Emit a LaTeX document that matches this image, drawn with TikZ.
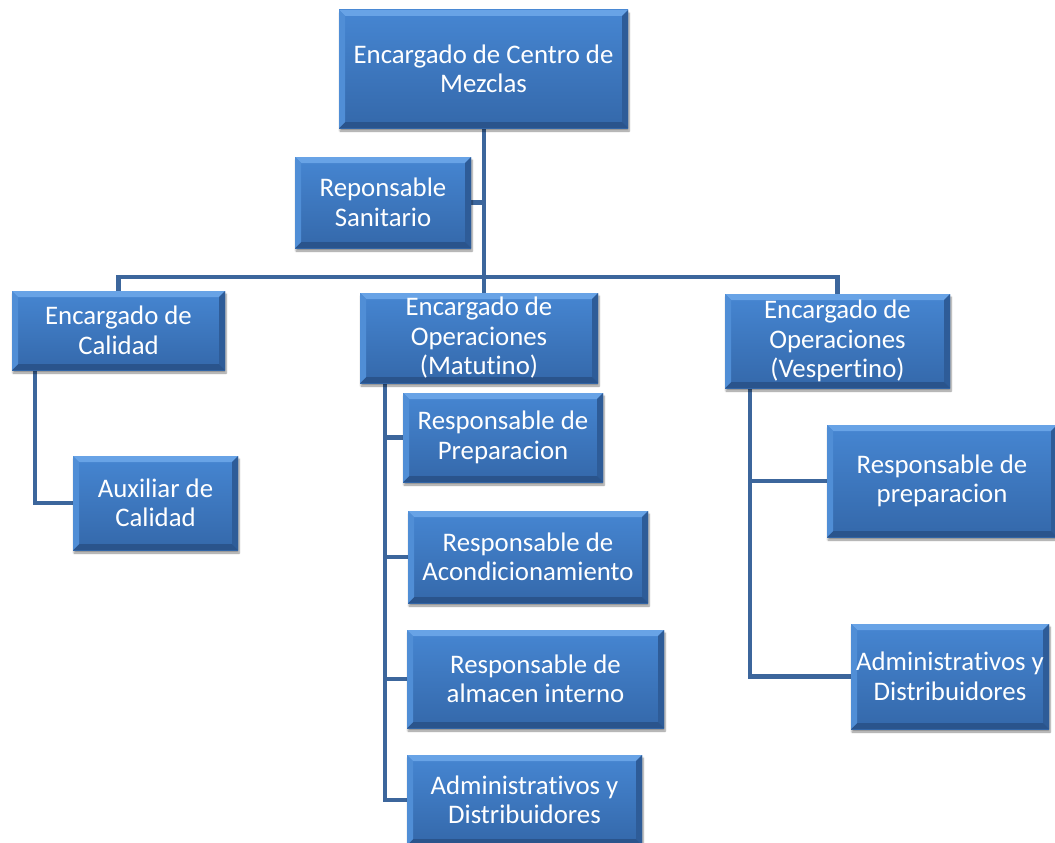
\documentclass[tikz,border=0pt]{standalone}
\usepackage{fontspec}
\setmainfont{Carlito}[Ligatures=NoCommon]
\usetikzlibrary{shadows.blur,backgrounds}

\definecolor{faceTop}{RGB}{70,134,210}
\definecolor{faceBot}{RGB}{52,104,170}
\definecolor{bevTop}{RGB}{104,163,230}
\definecolor{bevLeft}{RGB}{80,142,214}
\definecolor{bevRight}{RGB}{46,92,152}
\definecolor{bevBot}{RGB}{42,84,140}
\definecolor{linkBlue}{RGB}{60,102,156}

\tikzset{
  orgbox/.style={
    draw=none, top color=faceTop, bottom color=faceBot,
    text=white, align=center, inner sep=0pt,
    font=\fontsize{26.8}{29.5}\selectfont,
    blur shadow={shadow xshift=1pt, shadow yshift=-3pt,
                 shadow blur steps=6, shadow opacity=45},
    path picture={
      \coordinate (b1) at (path picture bounding box.north west);
      \coordinate (b2) at (path picture bounding box.north east);
      \coordinate (b3) at (path picture bounding box.south east);
      \coordinate (b4) at (path picture bounding box.south west);
      \fill[bevTop] (b1) -- (b2) -- ([shift={(-6pt,-6pt)}]b2) -- ([shift={(6pt,-6pt)}]b1) -- cycle;
      \fill[bevRight] (b2) -- (b3) -- ([shift={(-6pt,6pt)}]b3) -- ([shift={(-6pt,-6pt)}]b2) -- cycle;
      \fill[bevBot] (b3) -- (b4) -- ([shift={(6pt,6pt)}]b4) -- ([shift={(-6pt,6pt)}]b3) -- cycle;
      \fill[bevLeft] (b4) -- (b1) -- ([shift={(6pt,-6pt)}]b1) -- ([shift={(6pt,6pt)}]b4) -- cycle;
    }},
  link/.style={draw=linkBlue, line width=4.5pt}
}

% box given by its left, top, right and bottom edges
\newcommand\orgnode[6]{%
  \node[orgbox, minimum width={(#4-#2)*1pt}, minimum height={(#5-#3)*1pt}]
    (#1) at ({(#2+#4)/2},{(#3+#5)/2}) {#6};}

\begin{document}
\begin{tikzpicture}[x=1pt, y=-1pt]
\useasboundingbox (0,0) rectangle (1055,843);

\orgnode{top}{339}{10}{628}{128}{Encargado de Centro de\\Mezclas}
\orgnode{san}{295}{157}{471}{248}{Reponsable\\Sanitario}
\orgnode{cal}{12}{291}{225}{370}{Encargado de\\Calidad}
\orgnode{mat}{360}{293}{598}{383}{Encargado de\\Operaciones\\(Matutino)}
\orgnode{ves}{725}{294}{950}{388}{Encargado de\\Operaciones\\(Vespertino)}
\orgnode{aux}{73}{456}{238}{550}{Auxiliar de\\Calidad}
\orgnode{prepA}{403}{393}{603}{482}{Responsable de\\Preparacion}
\orgnode{acond}{408}{511}{648}{603}{Responsable de\\Acondicionamiento}
\orgnode{alm}{407}{630}{664}{728}{Responsable de\\almacen interno}
\orgnode{admA}{407}{755}{642}{845}{Administrativos y\\Distribuidores}
\orgnode{prepB}{827}{425}{1057}{537}{Responsable de\\preparacion}
\orgnode{admB}{851}{624}{1049}{729}{Administrativos y\\Distribuidores}

% junction of the horizontal bar under the head box
\coordinate (bus) at (484,277);

\begin{pgfonlayer}{background}
  % head box down to the bar, with the side branch to the sanitary post
  \draw[link] (top.south -| bus) -- (bus);
  \draw[link] (san.east) -- (san.east -| bus);
  % horizontal bar and drops to the three area heads
  \draw[link] (cal.north) |- (bus) -| (ves.north);
  \draw[link] (mat.north -| bus) -- (bus);
  % quality branch
  \draw[link] ([xshift=23pt]cal.south west) |- (aux.west);
  % morning shift branch
  \draw[link] ([xshift=25pt]mat.south west) |- (admA.west);
  \draw[link] ([xshift=25pt]mat.south west) |- (prepA.west);
  \draw[link] ([xshift=25pt]mat.south west) |- (acond.west);
  \draw[link] ([xshift=25pt]mat.south west) |- (alm.west);
  % evening shift branch
  \draw[link] ([xshift=25pt]ves.south west) |- (admB.west);
  \draw[link] ([xshift=25pt]ves.south west) |- (prepB.west);
\end{pgfonlayer}

\end{tikzpicture}
\end{document}
